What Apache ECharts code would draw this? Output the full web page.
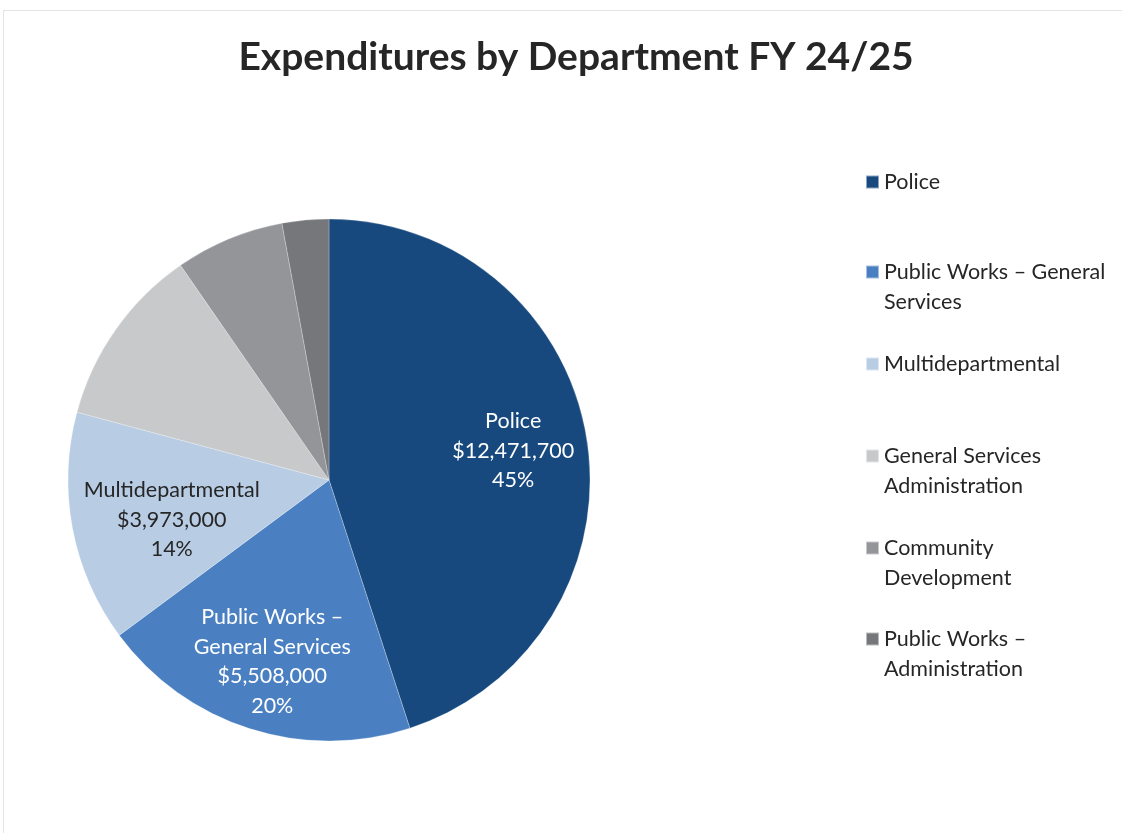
<!DOCTYPE html>
<html>
<head>
<meta charset="utf-8">
<script src="https://cdn.jsdelivr.net/npm/echarts@6/dist/echarts.min.js"></script>
<style>
html,body{margin:0;padding:0;background:#fff;overflow:hidden;}
#frame{position:absolute;left:3px;top:10px;width:1140px;height:840px;border:1px solid #e4e4e4;box-sizing:border-box;}
#chart{position:absolute;left:0;top:0;width:1122px;height:833px;}
</style>
</head>
<body>
<div id="frame"></div>
<div id="chart"></div>
<script>
const titleText = 'Expenditures by Department FY 24/25';
const categories = ['Police', 'Public Works – General Services', 'Multidepartmental', 'General Services Administration', 'Community Development', 'Public Works – Administration'];
const values = [12471700, 5508000, 3973000, 3100000, 1870000, 800000];
const legendLabels = ['Police', 'Public Works – General\nServices', 'Multidepartmental', 'General Services\nAdministration', 'Community\nDevelopment', 'Public Works –\nAdministration'];
const sliceLabels = ['Police', 'Public Works –\nGeneral Services', 'Multidepartmental', '', '', ''];
const colors = ['#17497e', '#4a80c1', '#b8cce4', '#c8c9cb', '#939598', '#76777a'];
const labelColors = ['#ffffff', '#ffffff', '#262626', '#262626', '#262626', '#262626'];

const FONT = 'Lato, "Open Sans", sans-serif';
const chart = echarts.init(document.getElementById('chart'));

const legendTops = [167, 227, 349, 411, 503, 594];
const legends = categories.map((c, i) => {
  const twoLine = legendLabels[i].indexOf('\n') >= 0;
  return {
    left: 865,
    top: legendTops[i],
    orient: 'vertical',
    padding: 0,
    itemWidth: 13,
    itemHeight: 13,
    icon: 'rect',
    selectedMode: false,
    data: [c],
    formatter: () => (twoLine ? '\n' : '') + legendLabels[i],
    textStyle: {
      fontFamily: FONT,
      fontSize: 21.5,
      lineHeight: 30,
      color: '#262626'
    }
  };
});

const labelShift = [[0, 0], [0, 4], [26, 5], [0, 0], [0, 0], [0, 0]];

const data = categories.map((c, i) => ({
  name: c,
  value: values[i],
  itemStyle: { color: colors[i] },
  label: {
    show: sliceLabels[i] !== '',
    color: labelColors[i],
    formatter: p => sliceLabels[i] + '\n$' + p.value.toLocaleString('en-US') + '\n' + p.percent + '%'
  }
}));

chart.setOption({
  animation: false,
  title: {
    text: titleText,
    left: 571,
    textAlign: 'center',
    top: 33,
    textStyle: { fontFamily: FONT, fontSize: 39, fontWeight: 'bold', color: '#262626' }
  },
  legend: legends,
  series: [
    {
      type: 'pie',
      center: [329, 480],
      radius: [0, 261],
      startAngle: 90,
      clockwise: true,
      silent: true,
      label: { show: false },
      labelLine: { show: false },
      itemStyle: { borderColor: 'rgba(255,255,255,0.5)', borderWidth: 0.5 },
      data: data.map(d => ({ name: d.name, value: d.value, itemStyle: d.itemStyle }))
    },
    {
      type: 'pie',
      center: [329, 480],
      radius: [106, 261],
      startAngle: 90,
      clockwise: true,
      silent: true,
      percentPrecision: 0,
      itemStyle: { color: 'rgba(0,0,0,0)', borderWidth: 0 },
      label: {
        position: 'inside',
        fontFamily: FONT,
        fontSize: 21.5,
        lineHeight: 29.5,
        align: 'center'
      },
      labelLine: { show: false },
      labelLayout: p => ({ dx: labelShift[p.dataIndex][0], dy: labelShift[p.dataIndex][1] }),
      data: data.map(d => ({ name: d.name, value: d.value, itemStyle: { color: 'rgba(0,0,0,0)' }, label: d.label }))
    }
  ]
});
</script>
</body>
</html>
